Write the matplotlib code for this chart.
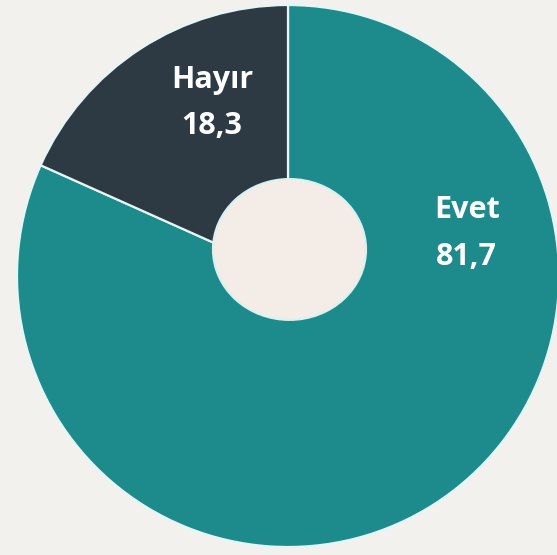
import matplotlib.pyplot as plt
from matplotlib.patches import Ellipse

# Veriler
labels = ["Evet", "Hayır"]
values = [81.7, 18.3]
colors = ["#1d8a8b", "#2e3a43"]
value_texts = ["81,7", "18,3"]

bg = "#f3f1ed"

fig = plt.figure(figsize=(5.57, 5.55), dpi=100, facecolor=bg)
ax = fig.add_axes([0, 0, 1, 1])
ax.set_facecolor(bg)

wedges, _ = ax.pie(
    values,
    colors=colors,
    startangle=90,
    counterclock=False,
    radius=1.0,
    wedgeprops=dict(edgecolor="#e4f6f6", linewidth=1.6),
)

# Miolo do donut (um pouco deslocado para cima, como no original)
ax.add_patch(Ellipse((0.0055, 0.098), 0.565, 0.52, facecolor="#f4ece6",
                     edgecolor="#d9f2f1", linewidth=1.5, zorder=3))

ax.set_aspect("equal")
ax.set_xlim(-1.0627, 0.9926)
ax.set_ylim(-1.0295, 1.0185)
ax.axis("off")

# Rótulos (nome em cima, valor embaixo)
label_pos = {"Evet": (0.66, 0.245, 0.071), "Hayır": (-0.28, 0.723, 0.553)}
font = dict(ha="center", va="center", color="white", fontsize=22,
            fontweight="bold", family=["Open Sans", "DejaVu Sans"], zorder=4)
for lab, txt in zip(labels, value_texts):
    x, y1, y2 = label_pos[lab]
    ax.text(x, y1, lab, **font)
    ax.text(x, y2, txt, **font)

fig.savefig("out.png", dpi=100, facecolor=bg)
